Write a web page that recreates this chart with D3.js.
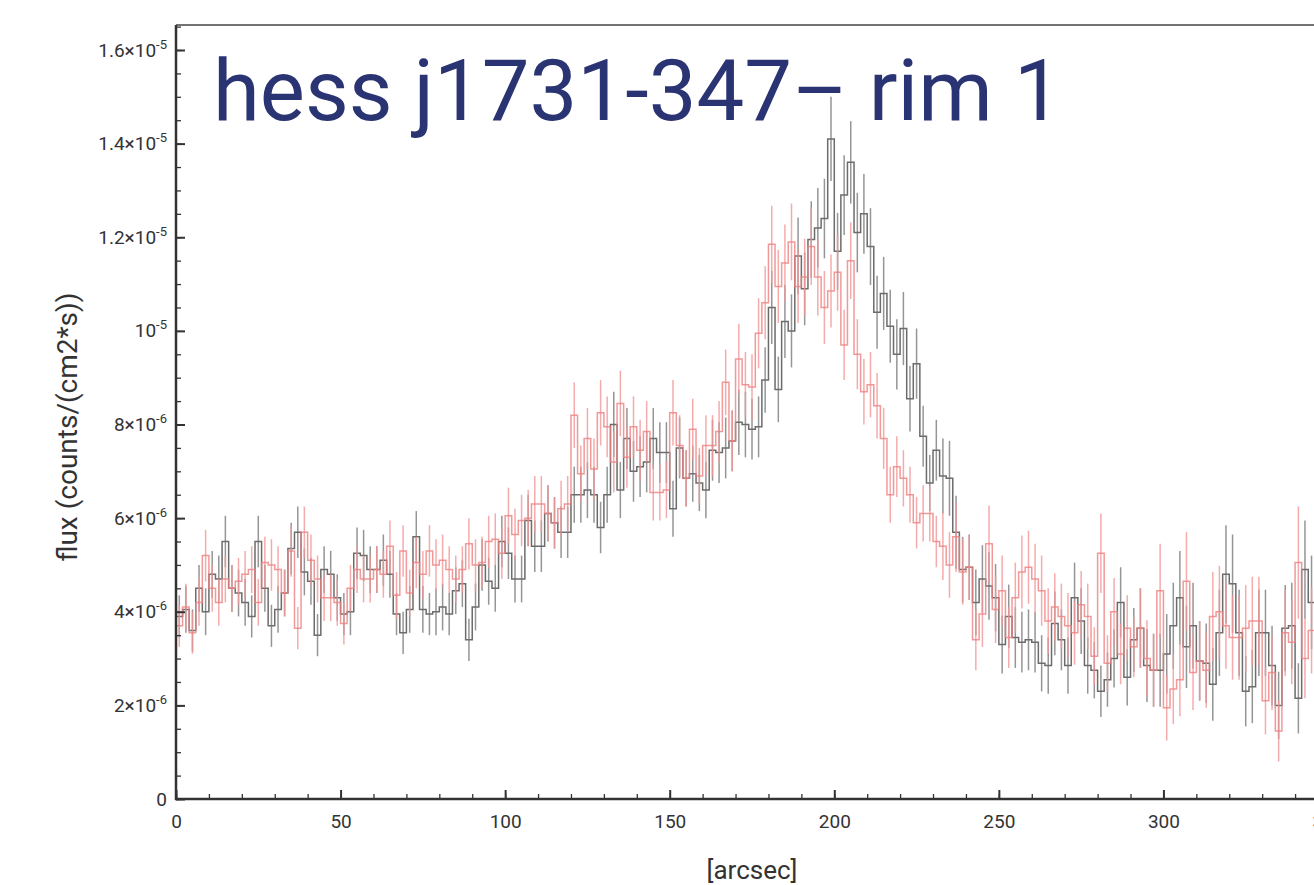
<!DOCTYPE html>
<html>
<head>
<meta charset="utf-8">
<script src="https://cdn.jsdelivr.net/npm/d3@7"></script>
<style>
  body { margin: 0; background: #fff; }
  svg { display: block; font-family: Roboto, "Noto Sans", sans-serif; }
</style>
</head>
<body>
<div id="chart"></div>
<script>
// profile bins, 2 arcsec each, fluxes in units of 1e-6 counts/(cm2*s)
var binWidth = 2;
var fluxUnit = 1e-6;

// grey profile
var greyFlux = [
  3.9,4.05,3.6,4.5,4.0,4.8,4.7,5.5,4.5,4.4,
  4.2,3.9,5.5,4.5,3.7,4.05,4.4,5.35,5.7,4.85,
  4.65,3.5,4.9,4.8,4.3,3.95,4.0,5.25,5.2,4.9,
  4.9,5.1,4.8,3.95,3.55,4.05,5.6,4.05,3.95,4.0,
  4.1,3.95,4.45,4.6,3.4,4.1,5.0,4.65,4.5,5.5,
  5.25,4.7,4.7,5.95,5.4,5.4,6.1,5.9,5.7,5.7,
  6.5,6.5,6.6,6.5,5.8,6.5,8.0,6.6,7.7,7.0,
  7.1,7.2,7.7,7.4,7.4,6.2,7.5,6.85,6.95,6.75,
  6.6,7.45,7.4,7.5,7.65,8.05,8.0,7.9,7.95,8.95,
  10.5,8.75,10.2,10.0,11.6,10.9,11.95,12.2,12.4,14.1,
  11.7,12.9,13.6,12.1,12.5,11.8,10.4,10.8,10.1,9.5,
  10.05,8.55,9.3,7.75,6.75,7.45,6.9,6.85,5.7,4.9,
  4.95,4.2,4.7,4.55,4.3,3.3,3.9,3.45,3.35,3.4,
  3.35,2.9,2.85,3.75,3.4,2.85,4.3,3.8,2.85,2.75,
  2.3,2.55,3.0,4.2,2.6,3.4,3.65,2.85,2.75,2.75,
  3.1,3.7,4.3,3.25,3.7,2.95,2.9,2.45,3.55,4.8,
  4.6,3.55,2.3,2.4,3.55,3.55,2.85,2.0,3.65,3.7,
  2.15,4.9,4.2
];
var greyErr = [
  .45,.5,.45,.5,.5,.5,.5,.55,.5,.5,
  .5,.45,.55,.5,.45,.5,.5,.55,.55,.5,
  .5,.45,.5,.5,.5,.45,.5,.55,.55,.5,
  .5,.55,.5,.45,.45,.5,.55,.5,.45,.5,
  .5,.45,.5,.5,.45,.5,.55,.5,.5,.55,
  .55,.5,.5,.55,.55,.55,.6,.55,.55,.55,
  .6,.6,.6,.6,.55,.6,.7,.6,.65,.65,
  .65,.65,.65,.65,.65,.6,.65,.6,.6,.6,
  .6,.65,.65,.65,.65,.7,.7,.65,.65,.7,
  .78,.7,.78,.78,.82,.78,.82,.85,.85,.9,
  .82,.85,.88,.85,.85,.82,.78,.78,.78,.75,
  .78,.7,.75,.65,.6,.65,.8,.8,.78,.7,
  .7,.7,.72,.72,.72,.62,.68,.65,.65,.65,
  .65,.6,.6,.68,.65,.6,.75,.7,.6,.6,
  .55,.58,.62,.75,.6,.68,.85,.78,.78,.78,
  .85,.92,1.0,.88,.92,.85,.85,.78,.92,1.05,
  1.05,.92,.75,.78,.92,.92,.85,.72,.92,.92,
  .75,1.05,1.0
];

// red profile
var redFlux = [
  3.7,4.1,3.55,4.2,5.2,4.5,4.2,4.7,4.5,4.65,
  4.8,4.9,4.2,5.05,5.0,4.9,4.4,5.3,3.65,5.7,
  5.1,4.7,4.3,4.3,4.2,3.75,4.5,4.9,4.7,4.7,
  4.9,4.8,5.4,4.35,5.3,4.4,5.05,4.8,5.3,5.0,
  5.1,4.9,4.7,4.9,5.45,5.0,5.05,5.5,5.55,5.25,
  6.05,5.65,5.95,6.0,6.3,6.3,6.1,5.9,6.2,6.3,
  8.2,6.95,7.7,7.05,8.25,7.95,7.2,8.45,7.3,7.95,
  7.45,7.85,6.55,6.55,6.6,8.25,7.55,6.85,7.9,6.9,
  7.55,7.55,7.85,8.9,7.65,9.4,8.85,8.8,9.95,10.6,
  11.85,10.95,11.45,11.9,10.95,11.15,11.8,11.15,10.5,10.85,
  11.25,9.7,11.5,9.5,8.7,8.85,8.4,7.7,6.5,7.1,
  6.85,6.5,5.9,6.1,6.1,5.5,5.4,5.0,5.6,4.85,
  4.95,3.4,3.95,5.45,4.05,4.45,3.45,4.3,4.85,4.95,
  4.7,4.45,3.8,4.1,3.9,3.7,3.55,4.15,3.9,3.05,
  5.25,2.9,4.0,3.1,3.65,3.25,3.65,3.0,2.75,4.45,
  1.95,2.35,2.55,4.65,2.7,2.95,2.75,3.9,4.0,3.7,
  3.45,3.45,3.65,3.8,3.8,2.1,2.7,1.45,3.55,3.35,
  5.05,3.0,3.6
];
var redErr = [
  .45,.5,.45,.5,.55,.5,.5,.5,.5,.5,
  .5,.5,.5,.55,.55,.5,.5,.55,.45,.55,
  .55,.5,.5,.5,.5,.45,.5,.5,.5,.5,
  .5,.5,.55,.5,.55,.5,.55,.5,.55,.55,
  .55,.5,.5,.5,.55,.55,.55,.55,.55,.55,
  .6,.55,.55,.6,.6,.6,.6,.55,.6,.6,
  .7,.6,.65,.65,.7,.65,.65,.7,.65,.65,
  .65,.65,.6,.6,.6,.7,.65,.6,.65,.6,
  .65,.65,.65,.7,.65,.75,.7,.7,.75,.78,
  .82,.78,.82,.82,.78,.82,.82,.82,.78,.78,
  .82,.75,.82,.75,.7,.7,.7,.65,.6,.65,
  .6,.6,.55,.6,.6,.55,.72,.7,.75,.7,
  .7,.65,.7,.82,.72,.75,.65,.75,.78,.78,
  .75,.75,.7,.72,.7,.7,.68,.72,.7,.62,
  .85,.6,.72,.65,.7,.65,.85,.82,.78,1.0,
  .7,.75,.78,1.05,.8,.85,.8,.95,.98,.92,
  .9,.9,.92,.95,.95,.72,.8,.65,.92,.9,
  1.2,.85,.92
];

var xTicks = [0, 50, 100, 150, 200, 250, 300, 350];
var yTicks = [0, 2e-6, 4e-6, 6e-6, 8e-6, 1e-5, 1.2e-5, 1.4e-5, 1.6e-5];
var yTickLabels = [["0", ""], ["2×10", "-6"], ["4×10", "-6"], ["6×10", "-6"], ["8×10", "-6"],
                   ["10", "-5"], ["1.2×10", "-5"], ["1.4×10", "-5"], ["1.6×10", "-5"]];

var title = "hess j1731-347– rim 1";
var xTitle = "[arcsec]";
var yTitle = "flux (counts/(cm2*s))";

var W = 1314, H = 885;
var plotLeft = 176, plotTop = 25, plotBottom = 799;

var svg = d3.select("#chart").append("svg")
    .attr("width", W).attr("height", H)
    .attr("viewBox", "0 0 " + W + " " + H);

var x = d3.scaleLinear().domain([0, 350]).range([plotLeft, 1328]);
var y = d3.scaleLinear().domain([0, 1.6e-5]).range([plotBottom, 50]);

svg.append("clipPath").attr("id", "plotclip")
  .append("rect").attr("x", plotLeft).attr("y", plotTop)
  .attr("width", W - plotLeft).attr("height", plotBottom - plotTop);

var plot = svg.append("g").attr("clip-path", "url(#plotclip)");

function drawProfile(flux, err, lineColor, barColor) {
  var pts = flux.map(function (v, i) { return [i * binWidth, v * fluxUnit]; });
  pts.push([flux.length * binWidth, flux[flux.length - 1] * fluxUnit]);

  var g = plot.append("g");
  g.selectAll("line")
    .data(flux)
    .enter()
    .append("line")
    .attr("x1", function (d, i) { return x((i + 0.5) * binWidth); })
    .attr("x2", function (d, i) { return x((i + 0.5) * binWidth); })
    .attr("y1", function (d, i) { return y((d - err[i]) * fluxUnit); })
    .attr("y2", function (d, i) { return y((d + err[i]) * fluxUnit); })
    .attr("stroke", barColor)
    .attr("stroke-width", 1.5);

  g.append("path")
    .datum(pts)
    .attr("fill", "none")
    .attr("stroke", lineColor)
    .attr("stroke-width", 1.5)
    .attr("d", d3.line()
      .x(function (d) { return x(d[0]); })
      .y(function (d) { return y(d[1]); })
      .curve(d3.curveStepAfter));
}

drawProfile(greyFlux, greyErr, "#6c6c6c", "#959595");
drawProfile(redFlux, redErr, "rgba(238,128,128,0.8)", "rgba(242,150,150,0.8)");

// axes, ticks pointing inward
var minorY = d3.range(0, 16.5e-6, 0.5e-6);
svg.append("g")
  .attr("transform", "translate(" + plotLeft + ",0)")
  .call(d3.axisLeft(y).tickValues(minorY).tickSizeInner(-5).tickSizeOuter(0).tickFormat(""))
  .call(function (g) { g.select(".domain").remove(); g.selectAll("line").attr("stroke", "#333").attr("stroke-width", 1.3); });

var yAxis = svg.append("g")
  .attr("transform", "translate(" + plotLeft + ",0)")
  .call(d3.axisLeft(y).tickValues(yTicks).tickSizeInner(-9).tickSizeOuter(0).tickPadding(9).tickFormat(""));
yAxis.select(".domain").remove();
yAxis.selectAll("line").attr("stroke", "#333").attr("stroke-width", 2);
yAxis.selectAll(".tick text")
  .attr("font-size", 19)
  .attr("fill", "#333")
  .attr("font-family", "Roboto, sans-serif")
  .each(function (d, i) {
    var t = d3.select(this);
    t.append("tspan").text(yTickLabels[i][0]);
    if (yTickLabels[i][1]) {
      t.append("tspan").attr("dy", -8).attr("font-size", 13).text(yTickLabels[i][1]);
    }
  });

var minorX = d3.range(0, 351, 10);
svg.append("g")
  .attr("transform", "translate(0," + plotBottom + ")")
  .call(d3.axisBottom(x).tickValues(minorX).tickSizeInner(-5).tickSizeOuter(0).tickFormat(""))
  .call(function (g) { g.select(".domain").remove(); g.selectAll("line").attr("stroke", "#333").attr("stroke-width", 1.3); });

var xAxis = svg.append("g")
  .attr("transform", "translate(0," + plotBottom + ")")
  .call(d3.axisBottom(x).tickValues(xTicks).tickSizeInner(-9).tickSizeOuter(0).tickPadding(16).tickFormat(d3.format("d")));
xAxis.select(".domain").remove();
xAxis.selectAll("line").attr("stroke", "#333").attr("stroke-width", 2);
xAxis.selectAll("text").attr("font-size", 19).attr("fill", "#333").attr("font-family", "Roboto, sans-serif");

// frame lines
svg.append("line").attr("x1", plotLeft).attr("x2", plotLeft).attr("y1", plotTop).attr("y2", plotBottom + 1)
  .attr("stroke", "#333").attr("stroke-width", 2.5);
svg.append("line").attr("x1", plotLeft - 1).attr("x2", W).attr("y1", plotBottom).attr("y2", plotBottom)
  .attr("stroke", "#333").attr("stroke-width", 2.5);
svg.append("line").attr("x1", plotLeft).attr("x2", W).attr("y1", plotTop).attr("y2", plotTop)
  .attr("stroke", "#444").attr("stroke-width", 1.5);

// titles
svg.append("text")
  .attr("x", 752)
  .attr("y", 879)
  .attr("text-anchor", "middle")
  .style("font-size", "26px")
  .attr("fill", "#333")
  .text(xTitle);

svg.append("text")
  .attr("transform", "translate(77,427)rotate(-90)")
  .attr("text-anchor", "middle")
  .style("font-size", "28px")
  .attr("fill", "#333")
  .text(yTitle);

svg.append("text")
  .attr("x", 213)
  .attr("y", 120)
  .style("font-size", "85px")
  .attr("fill", "#2b3473")
  .text(title);
</script>
</body>
</html>
